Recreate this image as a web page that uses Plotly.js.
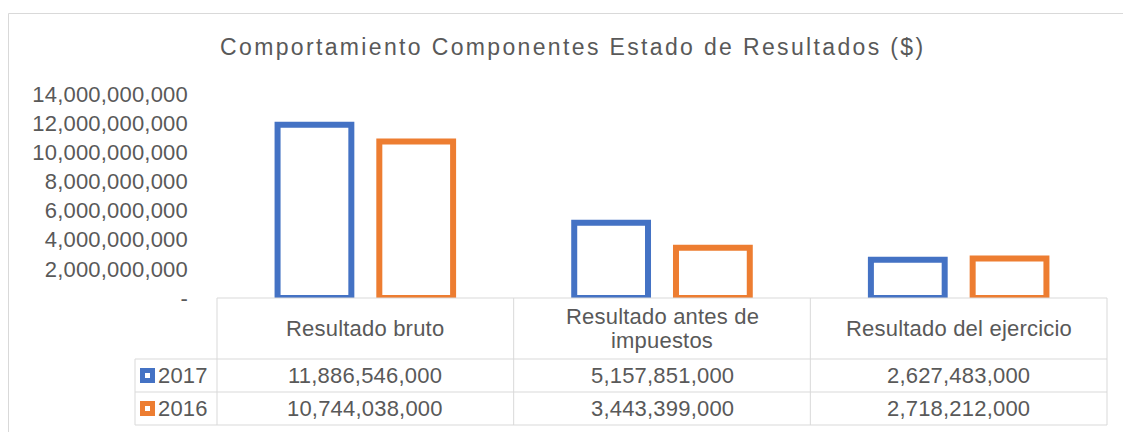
<!DOCTYPE html>
<html>
<head>
<meta charset="utf-8">
<script src="https://cdn.plot.ly/plotly-3.0.1.min.js"></script>
<style>
  html, body { margin: 0; padding: 0; background: #ffffff; }
  #chart { width: 1123px; height: 432px; }
  .gtitle { letter-spacing: 2.35px; }
  .ytick text, .annotation-text { letter-spacing: 0.2px; }
</style>
</head>
<body>
<div id="chart"></div>
<script>
// ---- data ----
const categories = ["Resultado bruto", "Resultado antes de impuestos", "Resultado del ejercicio"];
const seriesNames = ["2017", "2016"];
const values2017 = [11886546000, 5157851000, 2627483000];
const values2016 = [10744038000, 3443399000, 2718212000];
const yTickVals = [0, 2000000000, 4000000000, 6000000000, 8000000000, 10000000000, 12000000000, 14000000000];
const yTickText = ["-", "2,000,000,000", "4,000,000,000", "6,000,000,000", "8,000,000,000", "10,000,000,000", "12,000,000,000", "14,000,000,000"];
const chartTitle = "Comportamiento Componentes Estado de Resultados ($)";

// ---- styling ----
const colors = ["#4472C4", "#ED7D31"];
const textColor = "#595959";
const gridColor = "#d9d9d9";
const fontFamily = "Liberation Sans, Arial, sans-serif";
const W = 1123, H = 432;
const L = 217, R = 1107, T = 94, B = 298;
const px = x => (x - L) / (R - L);
const py = y => (B - y) / (B - T);

function wrapLines(s, n) {
  if (s.length <= n) return [s];
  const cut = s.lastIndexOf(" ", n);
  return [s.slice(0, cut), s.slice(cut + 1)];
}
const fmt = v => v.toLocaleString("en-US");

const seriesValues = [values2017, values2016];
const traces = seriesValues.map((vals, i) => ({
  type: "bar",
  name: seriesNames[i],
  x: categories,
  y: vals,
  marker: { color: "#ffffff", line: { color: colors[i], width: 6 } },
  hoverinfo: "x+y"
}));

const line = (x0, y0, x1, y1) => ({
  type: "line", xref: "paper", yref: "paper",
  x0: px(x0), y0: py(y0), x1: px(x1), y1: py(y1),
  line: { color: gridColor, width: 1 }
});

const shapes = [];
// outer chart border
shapes.push({ type: "rect", xref: "paper", yref: "paper",
  x0: px(8.5), y0: py(13.5), x1: px(1140), y1: py(460),
  line: { color: gridColor, width: 1 }, fillcolor: "rgba(0,0,0,0)" });
// data table
const rowY = [298, 359, 392, 425];
const colX = [L, L + (R - L) / 3, L + 2 * (R - L) / 3, R];
shapes.push(line(L, rowY[0], R, rowY[0]));
for (let r = 1; r < rowY.length; r++) shapes.push(line(135, rowY[r], R, rowY[r]));
shapes.push(line(135, rowY[1], 135, rowY[3]));
colX.forEach(x => shapes.push(line(x, rowY[0], x, rowY[3])));
// legend keys
seriesNames.forEach((n, i) => {
  const cy = (rowY[i + 1] + rowY[i + 2]) / 2;
  shapes.push({ type: "rect", xref: "paper", yref: "paper",
    x0: px(140), x1: px(155), y0: py(cy - 7.5), y1: py(cy + 7.5),
    line: { width: 0 }, fillcolor: colors[i] });
  shapes.push({ type: "rect", xref: "paper", yref: "paper",
    x0: px(145), x1: px(150), y0: py(cy - 2.5), y1: py(cy + 2.5),
    line: { width: 0 }, fillcolor: "#ffffff" });
});

const tf = { family: fontFamily, size: 22, color: textColor };
const annotations = [];
categories.forEach((c, j) => {
  const lines = wrapLines(c, 24);
  const hc = (rowY[0] + rowY[1]) / 2;
  const step = 24;
  lines.forEach((t, k) => {
    const yy = hc + (k - (lines.length - 1) / 2) * step;
    annotations.push({ xref: "x", yref: "paper", x: c, y: py(yy),
      text: t, showarrow: false, font: tf, xanchor: "center", yanchor: "middle" });
  });
  seriesValues.forEach((vals, i) => {
    annotations.push({ xref: "x", yref: "paper", x: c, y: py((rowY[i + 1] + rowY[i + 2]) / 2),
      text: fmt(vals[j]), showarrow: false, font: tf, xanchor: "center", yanchor: "middle" });
  });
});
seriesNames.forEach((n, i) => {
  annotations.push({ xref: "paper", yref: "paper", x: px(156), y: py((rowY[i + 1] + rowY[i + 2]) / 2),
    text: n, showarrow: false, font: tf, xanchor: "left", yanchor: "middle" });
});

const layout = {
  width: W, height: H,
  margin: { l: L, r: W - R, t: T, b: H - B, pad: 0 },
  paper_bgcolor: "#ffffff", plot_bgcolor: "#ffffff",
  showlegend: false,
  barmode: "group", bargap: 0.314, bargroupgap: 0.275,
  title: { text: chartTitle, x: 0.51, xanchor: "center", y: 1 - 47 / H, yanchor: "middle", yref: "container",
    font: { family: fontFamily, size: 23, color: textColor } },
  xaxis: { type: "category", range: [-0.5, 2.5], showticklabels: false, showgrid: false,
    zeroline: false, showline: false, ticks: "" },
  yaxis: { range: [0, 14000000000], tickmode: "array", tickvals: yTickVals, ticktext: yTickText,
    showgrid: false, zeroline: false, showline: false, ticks: "", ticklabelstandoff: 28,
    tickfont: { family: fontFamily, size: 22, color: textColor } },
  shapes: shapes,
  annotations: annotations
};

Plotly.newPlot("chart", traces, layout, { displayModeBar: false, staticPlot: true });
</script>
</body>
</html>
